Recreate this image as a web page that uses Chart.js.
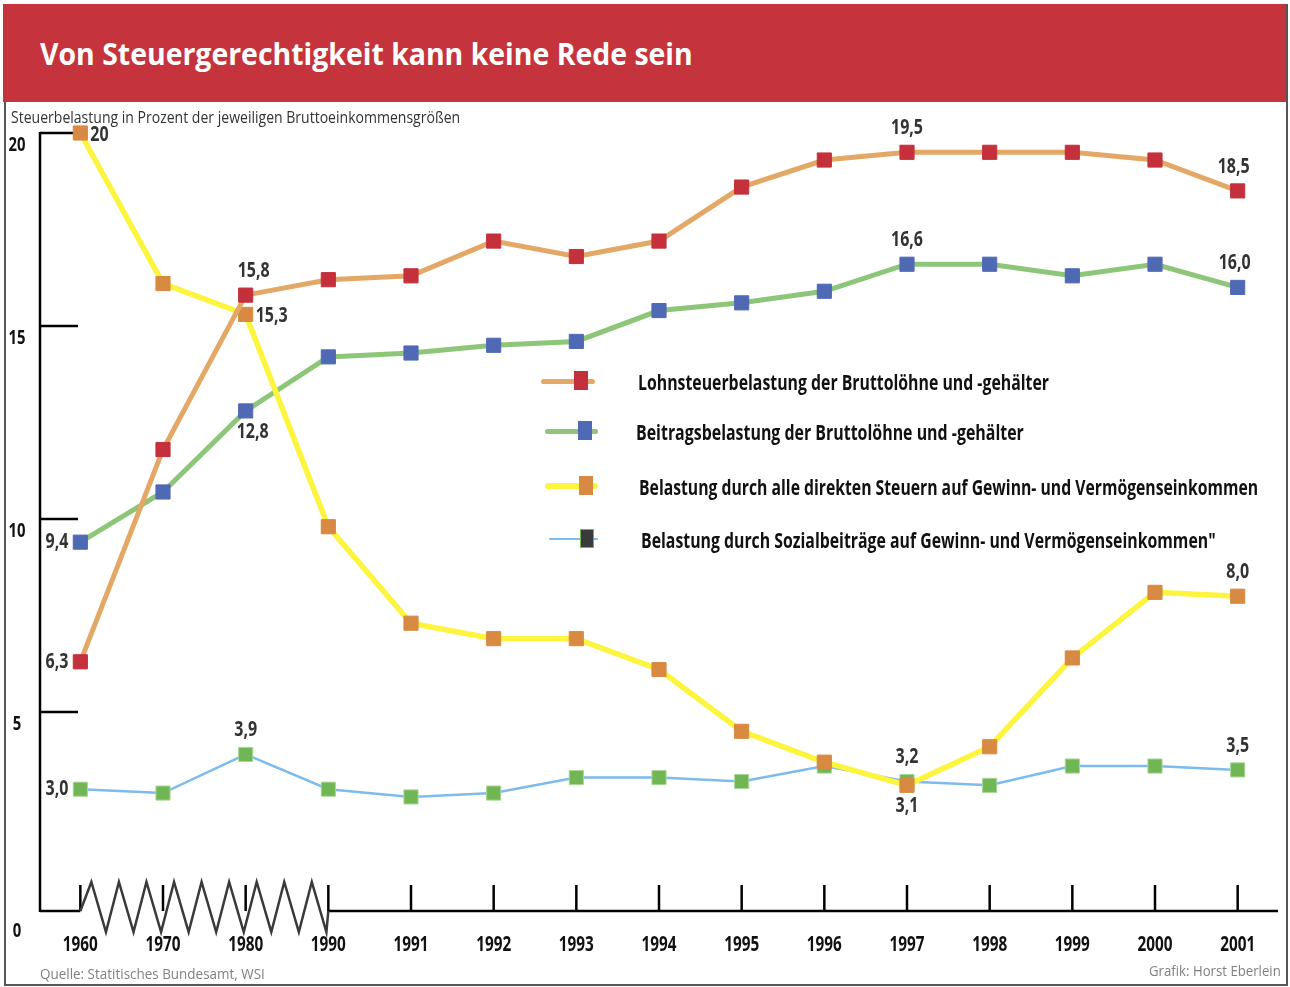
<!DOCTYPE html>
<html>
<head>
<meta charset="utf-8">
<script src="https://cdn.jsdelivr.net/npm/chart.js@4/dist/chart.umd.min.js"></script>
<style>
  body { margin: 0; background: #fff; }
  #wrap { position: relative; width: 1290px; height: 987px; overflow: hidden; background: #fff;
    font-family: 'Open Sans', 'DejaVu Sans', sans-serif; }
  #kopf { position: absolute; left: 3px; top: 4px; width: 1285px; height: 98px; background: #c5333c; }
  #rahmen { position: absolute; left: 4px; top: 4px; width: 1282px; height: 980px;
    border-right: 2px solid #555; border-bottom: 2px solid #555; }
  #rahmenLinks { position: absolute; left: 4px; top: 102px; width: 2px; height: 884px; background: #555; }
  canvas { position: absolute; left: 0; top: 0; }
  .schmal { position: absolute; white-space: nowrap; display: inline-block; transform-origin: left center; }
  .rechts { transform-origin: right center; }
  #titel { left: 40px; top: 32px; color: #fff; font-weight: bold; font-size: 31px; line-height: 42px; }
  #unter { left: 11px; top: 106px; font-size: 17px; line-height: 22px; color: #333; }
  .linie { position: absolute; border-radius: 3px; }
  .punkt { position: absolute; width: 14px; height: 19px; box-sizing: border-box; }
  .legtxt { font-size: 22px; line-height: 26px; font-weight: bold; color: #111; }
  #quelle { left: 40px; top: 962px; font-size: 15px; line-height: 22px; color: #808080; }
  #grafik { right: 9px; top: 959px; font-size: 15px; line-height: 22px; color: #808080; }
</style>
</head>
<body>
<div id="wrap">
  <div id="kopf"></div>
  <div id="titel" class="schmal">Von Steuergerechtigkeit kann keine Rede sein</div>
  <div id="rahmen"></div>
  <div id="rahmenLinks"></div>
  <canvas id="chart" width="1290" height="987"></canvas>
  <div id="unter" class="schmal">Steuerbelastung in Prozent der jeweiligen Bruttoeinkommensgrößen</div>
  <div id="legende"></div>
  <div id="quelle" class="schmal">Quelle: Statitisches Bundesamt, WSI</div>
  <div id="grafik" class="schmal rechts">Grafik: Horst Eberlein</div>
</div>
<script>
// Werte in Prozent
const jahre = ['1960', '1970', '1980', '1990', '1991', '1992', '1993', '1994', '1995', '1996', '1997', '1998', '1999', '2000', '2001'];
const lohnsteuer = [6.3, 11.8, 15.8, 16.2, 16.3, 17.2, 16.8, 17.2, 18.6, 19.3, 19.5, 19.5, 19.5, 19.3, 18.5];
const beitraege = [9.4, 10.7, 12.8, 14.2, 14.3, 14.5, 14.6, 15.4, 15.6, 15.9, 16.6, 16.6, 16.3, 16.6, 16.0];
const direkteSteuern = [20.0, 16.1, 15.3, 9.8, 7.3, 6.9, 6.9, 6.1, 4.5, 3.7, 3.1, 4.1, 6.4, 8.1, 8.0];
const sozialbeitraege = [3.0, 2.9, 3.9, 3.0, 2.8, 2.9, 3.3, 3.3, 3.2, 3.6, 3.2, 3.1, 3.6, 3.6, 3.5];
const yTicks = [0, 5, 10, 15, 20];
const serienNamen = [
  'Lohnsteuerbelastung der Bruttolöhne und -gehälter',
  'Beitragsbelastung der Bruttolöhne und -gehälter',
  'Belastung durch alle direkten Steuern auf Gewinn- und Vermögenseinkommen',
  'Belastung durch Sozialbeiträge auf Gewinn- und Vermögenseinkommen"'
];

const schrift = "'Open Sans', 'DejaVu Sans', sans-serif";

// welche Punkte beschriftet werden
const beschriftungen = [
  { ds: 0, i: 0, pos: 'left' }, { ds: 0, i: 2, pos: 'top', dx: 8 }, { ds: 0, i: 10, pos: 'top' }, { ds: 0, i: 14, pos: 'top', dx: -4 },
  { ds: 1, i: 0, pos: 'left' }, { ds: 1, i: 2, pos: 'bottom', dx: 7 }, { ds: 1, i: 10, pos: 'top' }, { ds: 1, i: 14, pos: 'top', dx: -3 },
  { ds: 2, i: 0, pos: 'right', ganz: true }, { ds: 2, i: 2, pos: 'right' }, { ds: 2, i: 10, pos: 'bottom' }, { ds: 2, i: 14, pos: 'top' },
  { ds: 3, i: 0, pos: 'left' }, { ds: 3, i: 2, pos: 'top' }, { ds: 3, i: 10, pos: 'top' }, { ds: 3, i: 14, pos: 'top' }
];

function fmt(v, ganz) {
  return ganz ? String(Math.round(v)) : v.toFixed(1).replace('.', ',');
}

// schmaler Text: horizontal gestaucht, damit es wie die Condensed-Schrift aussieht
function schmalText(ctx, txt, x, y, s) {
  ctx.save();
  ctx.translate(x, y);
  ctx.scale(s, 1);
  ctx.fillText(txt, 0, 0);
  ctx.restore();
}

const achsenPlugin = {
  id: 'achsen',
  beforeDatasetsDraw(chart) {
    const ctx = chart.ctx;
    const x = chart.scales.x, y = chart.scales.y;
    const basis = y.getPixelForValue(0) + 6;
    const xa = 40, xe = 1278;
    const x0 = x.getPixelForValue(0), x3 = x.getPixelForValue(3);
    ctx.save();
    ctx.strokeStyle = '#000';
    ctx.lineWidth = 2.5;
    // y-Achse
    ctx.beginPath();
    ctx.moveTo(xa, y.getPixelForValue(20) - 1);
    ctx.lineTo(xa, basis + 1);
    ctx.stroke();
    yTicks.forEach(t => {
      if (t === 0) return;
      const py = y.getPixelForValue(t);
      ctx.beginPath();
      ctx.moveTo(xa, py);
      ctx.lineTo(xa + 38, py);
      ctx.stroke();
    });
    // x-Achse
    ctx.beginPath();
    ctx.moveTo(xa, basis);
    ctx.lineTo(x0, basis);
    ctx.moveTo(x3, basis);
    ctx.lineTo(xe, basis);
    ctx.stroke();
    jahre.forEach((j, i) => {
      const px = x.getPixelForValue(i);
      ctx.beginPath();
      ctx.moveTo(px, basis - 26);
      ctx.lineTo(px, basis);
      ctx.stroke();
    });
    // Achsenbruch
    const p = (x3 - x0) / 9;
    ctx.strokeStyle = '#3a3a3a';
    ctx.beginPath();
    ctx.moveTo(x0, basis);
    for (let k = 0; k < 9; k++) {
      ctx.lineTo(x0 + (k + 0.4) * p, basis - 29);
      ctx.lineTo(x0 + (k + 0.93) * p, basis + 21);
    }
    ctx.lineTo(x3, basis);
    ctx.stroke();
    // Achsenbeschriftung
    ctx.fillStyle = '#111';
    ctx.textAlign = 'center';
    ctx.textBaseline = 'middle';
    ctx.font = 'bold 20px ' + schrift;
    const sy = 17 / ctx.measureText('20').width;
    yTicks.forEach(t => {
      const py = t === 0 ? basis + 20 : y.getPixelForValue(t) + 12;
      schmalText(ctx, String(t), 17, py, sy);
    });
    ctx.font = 'bold 22px ' + schrift;
    const sx = 35 / ctx.measureText('1960').width;
    jahre.forEach((j, i) => {
      schmalText(ctx, j, x.getPixelForValue(i), basis + 34, sx);
    });
    ctx.restore();
  },
  afterDatasetsDraw(chart) {
    const ctx = chart.ctx;
    ctx.save();
    ctx.font = 'bold 21px ' + schrift;
    ctx.fillStyle = '#333';
    ctx.textBaseline = 'middle';
    const s = 32 / ctx.measureText('15,8').width;
    beschriftungen.forEach(b => {
      const pt = chart.getDatasetMeta(b.ds).data[b.i];
      const v = chart.data.datasets[b.ds].data[b.i];
      const txt = fmt(v, b.ganz);
      let px = pt.x + (b.dx || 0), py = pt.y;
      if (b.pos === 'left') { ctx.textAlign = 'right'; px -= 12; }
      else if (b.pos === 'right') { ctx.textAlign = 'left'; px += 10; py += 2; }
      else if (b.pos === 'top') { ctx.textAlign = 'center'; py -= 24; }
      else { ctx.textAlign = 'center'; py += 21; }
      schmalText(ctx, txt, px, py, s);
    });
    ctx.restore();
  }
};

const stile = [
  { linie: '#e4a866', punkt: '#c4303b', rand: '#c4303b', breite: 5, order: 0 },
  { linie: '#8dc678', punkt: '#5069b5', rand: '#5069b5', breite: 5, order: 2 },
  { linie: '#fdf43e', punkt: '#d98a42', rand: '#d98a42', breite: 5.5, order: 1 },
  { linie: '#7dbbec', punkt: '#70b654', rand: '#a9d896', breite: 2.5, order: 3 }
];
const reihen = [lohnsteuer, beitraege, direkteSteuern, sozialbeitraege];

new Chart(document.getElementById('chart'), {
  type: 'line',
  data: {
    labels: jahre,
    datasets: reihen.map((d, k) => ({
      label: serienNamen[k],
      data: d,
      borderColor: stile[k].linie,
      borderWidth: stile[k].breite,
      backgroundColor: stile[k].punkt,
      pointBackgroundColor: stile[k].punkt,
      pointBorderColor: stile[k].rand,
      pointBorderWidth: 1,
      pointStyle: 'rect',
      pointRadius: 10,
      tension: 0,
      clip: false,
      order: stile[k].order
    }))
  },
  options: {
    responsive: false,
    animation: false,
    layout: { padding: { left: 39, right: 11, top: 133, bottom: 82 } },
    plugins: { legend: { display: false }, tooltip: { enabled: false } },
    scales: {
      x: { type: 'category', offset: true, display: false },
      y: { min: 0, max: 20, display: false }
    }
  },
  plugins: [achsenPlugin]
});

// Legende
const legPos = [
  { top: 381, l0: 541, l1: 595, p: 574, t: 638, w: 411 },
  { top: 431, l0: 545, l1: 598, p: 578, t: 636, w: 388 },
  { top: 486, l0: 545, l1: 598, p: 579, t: 639, w: 619 },
  { top: 539, l0: 549, l1: 598, p: 580, t: 641, w: 575 }
];
const legende = document.getElementById('legende');
serienNamen.forEach((n, k) => {
  const lp = legPos[k];
  const h = stile[k].breite;
  const linie = document.createElement('span');
  linie.className = 'linie';
  linie.style.cssText = 'left:' + lp.l0 + 'px;top:' + (lp.top - h / 2) + 'px;width:' + (lp.l1 - lp.l0) + 'px;height:' + h + 'px;background:' + stile[k].linie;
  const punkt = document.createElement('span');
  punkt.className = 'punkt';
  const pf = k === 3 ? '#3a3a3a' : stile[k].punkt;
  const rf = k === 3 ? '#70b654' : stile[k].punkt;
  punkt.style.cssText = 'left:' + lp.p + 'px;top:' + (lp.top - 10) + 'px;background:' + pf + ';border:1.5px solid ' + rf;
  const txt = document.createElement('span');
  txt.className = 'schmal legtxt';
  txt.style.left = lp.t + 'px';
  txt.style.top = (lp.top - 13) + 'px';
  txt.textContent = n;
  txt.dataset.w = lp.w;
  legende.appendChild(linie);
  legende.appendChild(punkt);
  legende.appendChild(txt);
});

// HTML-Texte auf die Breite im Original stauchen
const zielBreiten = { titel: 653, unter: 449, quelle: 225, grafik: 132 };
Object.keys(zielBreiten).forEach(id => {
  const el = document.getElementById(id);
  el.style.transform = 'scaleX(' + (zielBreiten[id] / el.offsetWidth) + ')';
});
document.querySelectorAll('.legtxt').forEach(el => {
  el.style.transform = 'scaleX(' + (Number(el.dataset.w) / el.offsetWidth) + ')';
});
</script>
</body>
</html>
